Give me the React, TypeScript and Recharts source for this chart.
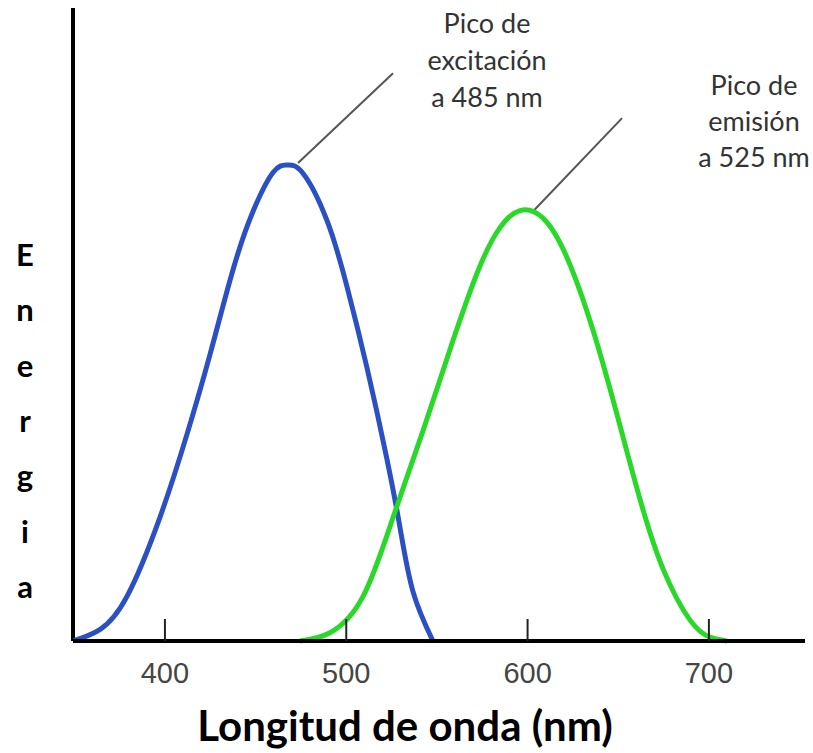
import React from 'react';
import { LineChart, Line, XAxis, YAxis, ReferenceLine } from 'recharts';

const excitationX = [349.3, 364.1, 379.0, 397.2, 412.1, 424.8, 437.5, 448.5, 459.6, 467.3, 476.1, 489.4, 500.4, 511.4, 522.4, 529.6, 536.8, 547.8];
const excitationY = [0, 1.8, 7.0, 19.5, 32.6, 45.2, 58.6, 67.8, 74.0, 75.2, 73.9, 66.4, 56.0, 43.2, 28.8, 18.0, 7.8, 0];
const emissionX = [474.5, 491.0, 509.2, 525.8, 542.3, 558.9, 573.7, 584.8, 595.8, 608.5, 621.7, 636.1, 649.3, 662.0, 674.7, 689.6, 700.6, 710.0];
const emissionY = [0, 1.3, 7.0, 19.5, 33.2, 47.5, 59.2, 65.3, 68.0, 66.8, 60.6, 49.1, 35.8, 22.4, 11.4, 3.3, 0.6, 0];
const xTicks = [400, 500, 600, 700];
const yLetters = ['E', 'n', 'e', 'r', 'g', 'i', 'a'];
const excitationLabel = ['Pico de', 'excitación', 'a 485 nm'];
const emissionLabel = ['Pico de', 'emisión', 'a 525 nm'];
const xTitle = 'Longitud de onda (nm)';

const excitationData = excitationX.map((x, i) => ({ x, y: excitationY[i] }));
const emissionData = emissionX.map((x, i) => ({ x, y: emissionY[i] }));

const Tick = (props: any) => {
  const { x, y, payload } = props;
  return (
    <g>
      <line x1={x} y1={y} x2={x} y2={y - 22} stroke="#222" strokeWidth={2} />
      <text x={x} y={y + 42} textAnchor="middle" fontFamily="Liberation Sans" fontSize={29} fill="#454545">
        {payload.value}
      </text>
    </g>
  );
};

export default function App() {
  return (
    <div style={{ position: 'absolute', left: 0, top: 0, width: 813, height: 753, background: '#fff' }}>
      <LineChart width={813} height={753} margin={{ top: 8, right: 8, bottom: 0, left: 73 }}>
        <XAxis
          type="number"
          dataKey="x"
          domain={[349.3, 753]}
          allowDataOverflow
          ticks={xTicks}
          interval={0}
          height={112}
          tickSize={0}
          tickMargin={0}
          tickLine={false}
          tick={<Tick />}
          axisLine={{ stroke: '#000', strokeWidth: 4 }}
        />
        <YAxis type="number" domain={[0, 100]} hide />
        <ReferenceLine x={349.3} stroke="#000" strokeWidth={4} ifOverflow="visible" />
        <ReferenceLine
          segment={[{ x: 473.4, y: 75.5 }, { x: 525.8, y: 89.7 }]}
          stroke="#555"
          strokeWidth={2}
          ifOverflow="visible"
        />
        <ReferenceLine
          segment={[{ x: 602.4, y: 67.7 }, { x: 652.1, y: 82.6 }]}
          stroke="#555"
          strokeWidth={2}
          ifOverflow="visible"
        />
        <Line
          data={excitationData}
          dataKey="y"
          type="natural"
          stroke="#2a50c4"
          strokeWidth={5}
          dot={false}
          isAnimationActive={false}
        />
        <Line
          data={emissionData}
          dataKey="y"
          type="natural"
          stroke="#2ad82a"
          strokeWidth={5}
          dot={false}
          isAnimationActive={false}
        />
      </LineChart>
      <svg width={813} height={753} style={{ position: 'absolute', left: 0, top: 0, pointerEvents: 'none' }}>
        {excitationLabel.map((t, i) => (
          <text key={'a' + i} x={487} y={33 + i * 37} textAnchor="middle" fontFamily="Lato" fontSize={27} fill="#333">
            {t}
          </text>
        ))}
        {emissionLabel.map((t, i) => (
          <text key={'b' + i} x={754} y={95 + i * 36} textAnchor="middle" fontFamily="Lato" fontSize={27} fill="#333">
            {t}
          </text>
        ))}
        {yLetters.map((t, i) => (
          <text key={'c' + i} x={25} y={266 + i * 55.3} textAnchor="middle" fontFamily="Lato" fontWeight="bold" fontSize={31} fill="#000">
            {t}
          </text>
        ))}
        <text x={405} y={741} textAnchor="middle" fontFamily="Lato" fontWeight="bold" fontSize={42} fill="#000">
          {xTitle}
        </text>
      </svg>
    </div>
  );
}
